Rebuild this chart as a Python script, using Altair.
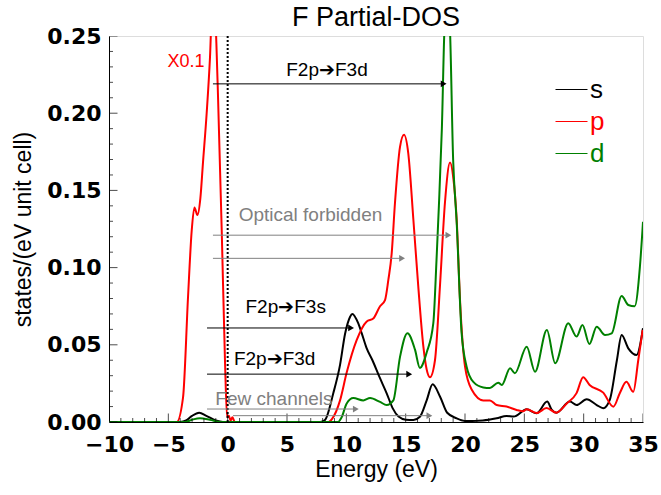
import altair as alt
import pandas as pd

# ---------------- data ----------------
s_x = [-10, -4.0, -3.5, -3.0, -2.4, -1.8, -1.0, -0.4, 7.8, 8.2, 8.9, 9.47, 9.89, 10.31, 10.5, 11.0, 11.3, 11.7, 12.2, 12.8,
       13.4, 13.9, 14.4, 15.0, 15.65, 16.2, 16.77, 17.27, 17.9, 18.5, 19.3, 20.1, 21.5, 22.67, 23.5, 24.1, 25.2, 26.03,
       26.93, 27.3, 27.7, 28.84, 29.4, 30.25, 31.1, 31.65, 32.2, 32.8, 33.2, 33.76, 34.46, 35.0]
s_y = [0, 0, 0.001, 0.004, 0.006, 0.004, 0.001, 0, 0, 0.0013, 0.0186, 0.037, 0.057, 0.068, 0.070, 0.064, 0.0574, 0.048, 0.040, 0.029,
       0.0186, 0.009, 0.0035, 0.0015, 0.0013, 0.0034, 0.014, 0.0244, 0.0164, 0.006, 0.0024, 0.0006, 0.001, 0.0024, 0.0039, 0.0035, 0.0082, 0.0056,
       0.0132, 0.008, 0.006, 0.0132, 0.011, 0.0147, 0.011, 0.0089, 0.0143, 0.040, 0.0563, 0.0477, 0.0434, 0.0607]

p_x = [-10, -4.3, -3.76, -3.34, -3.03, -2.8, -2.55, -2.3, -2.08, -1.77, -1.49, -1.3, -1.1, -0.95, -0.81, -0.5, -0.22, -0.05,
       0.1, 0.25, 0.4, 0.6, 8.5, 8.8, 9.47, 10.03, 10.87, 11.7, 12.27, 12.84, 13.26, 13.54, 13.82, 14.1, 14.52, 14.86, 15.22,
       15.65, 16.06, 16.49, 16.77, 17.05, 17.47, 17.89, 18.31, 18.74, 19.0, 19.3, 19.58, 20.0, 20.56, 21.54, 22.1, 22.67,
       23.5, 24.35, 24.9, 25.2, 26.03, 26.87, 27.7, 28.57, 29.4, 29.96, 30.5, 31.65, 32.5, 33.06, 33.6, 34.18, 34.6, 34.97]
p_y = [0, 0, 0.016, 0.081, 0.124, 0.139, 0.134, 0.145, 0.168, 0.2, 0.236, 0.27, 0.27, 0.245, 0.21, 0.124, 0.038, 0.003,
       0.004, 0.001, 0.003, 0, 0, 0.002, 0.014, 0.032, 0.053, 0.065, 0.067, 0.075, 0.079, 0.092, 0.109, 0.142, 0.178, 0.186, 0.174,
       0.131, 0.088, 0.049, 0.034, 0.029, 0.040, 0.088, 0.142, 0.168, 0.159, 0.131, 0.079, 0.036, 0.021, 0.014, 0.014, 0.011,
       0.010, 0.0078, 0.007, 0.0083, 0.0058, 0.009, 0.006, 0.012, 0.0187, 0.029, 0.024, 0.019, 0.0099, 0.019, 0.026, 0.0196, 0.040, 0.0596]

d_x = [-10, -3.6, -3.0, -2.33, -1.5, -0.6, 9.3, 9.6, 10.03, 10.59, 11.43, 12.0, 12.84, 13.4, 13.96, 14.52, 15.15, 15.78, 16.2,
       16.77, 17.33, 17.6, 17.8, 18.05, 18.3, 18.5, 18.7, 19.0, 19.3, 19.71, 20.13, 20.7, 21.54, 22.1, 22.8, 23.1, 23.8, 24.2,
       25.2, 25.9, 26.9, 27.6, 28.7, 29.4, 29.9, 30.48, 31.1, 31.8, 32.36, 33.2, 33.76, 34.3, 34.74, 35.0]
d_y = [0, 0, 0.0015, 0.0025, 0.0015, 0, 0, 0.003, 0.012, 0.0155, 0.014, 0.0155, 0.013, 0.011, 0.014, 0.042, 0.0575, 0.047, 0.035,
       0.045, 0.064, 0.105, 0.14, 0.19, 0.26, 0.27, 0.26, 0.17, 0.129, 0.058, 0.036, 0.026, 0.0224, 0.022, 0.0255, 0.024, 0.0348, 0.0316,
       0.0488, 0.0326, 0.0596, 0.038, 0.064, 0.0553, 0.0628, 0.0505, 0.0617, 0.0563, 0.0574, 0.0816, 0.0758, 0.075, 0.1006, 0.1297]

series_names = ["s", "p", "d"]
series_colors = ["#000000", "#ff0000", "#008000"]

# annotation arrows
arrow_x1 = [-1.24, -1.24, -1.24, -1.74, -1.74, -1.74, 0.45]
arrow_x2 = [18.2, 18.6, 14.7, 10.4, 15.3, 10.8, 17.0]
arrow_y = [0.219, 0.121, 0.106, 0.0609, 0.031, 0.0084, 0.0041]
arrow_grp = ["k", "g", "g", "k", "k", "g", "g"]

# annotation texts
text_lbl = ["F2p\u2794F3d", "Optical forbidden", "F2p\u2794F3s", "F2p\u2794F3d", "Few channels", "X0.1"]
text_x = [8.37, 6.98, 4.89, 3.96, 3.9, -3.51]
text_y = [0.228, 0.134, 0.0747, 0.0406, 0.0147, 0.233]
text_grp = ["k", "g", "k", "k", "g", "r"]

x_major = [-10, -5, 0, 5, 10, 15, 20, 25, 30, 35]
x_minor = [v for v in range(-10, 36) if v % 5 != 0]
y_major = [0.0, 0.05, 0.10, 0.15, 0.20, 0.25]
y_minor = [round(i * 0.01, 2) for i in range(26) if i % 5 != 0]

FONT = "Liberation Sans"
TICKFONT = "DejaVu Sans"

# ---------------- build ----------------
rows = []
for name, xs_, ys_ in zip(series_names, [s_x, p_x, d_x], [s_y, p_y, d_y]):
    for a, b in zip(xs_, ys_):
        rows.append({"E": a, "dos": b, "orb": name})
df = pd.DataFrame(rows)

xsc = alt.Scale(domain=[-10, 35], nice=False, zero=False)
ysc = alt.Scale(domain=[0, 0.25], nice=False, zero=False)

x_axis = alt.Axis(values=x_major, format="d", ticks=False, grid=False, domainColor="black",
                  labelFont=TICKFONT, labelFontSize=22, labelFontWeight="bold", labelColor="black",
                  labelPadding=12, labelFlush=False, title="Energy (eV)", titleFont=FONT,
                  titleFontSize=23, titleFontWeight="normal", titleColor="black", titlePadding=3)
y_axis = alt.Axis(values=y_major, format=".2f", ticks=False, grid=False, domainColor="black",
                  labelFont=TICKFONT, labelFontSize=22, labelFontWeight="bold", labelColor="black",
                  labelPadding=8, labelFlush=False, title="states/(eV unit cell)", titleFont=FONT,
                  titleFontSize=23, titleFontWeight="normal", titleColor="black", titlePadding=11)

lines = alt.Chart(df).mark_line(clip=True, strokeWidth=2, interpolate="monotone").encode(
    x=alt.X("E:Q", scale=xsc, axis=x_axis),
    y=alt.Y("dos:Q", scale=ysc, axis=y_axis),
    color=alt.Color("orb:N", scale=alt.Scale(domain=series_names, range=series_colors),
                    legend=alt.Legend(title=None, orient="none", legendX=446, legendY=37,
                                      symbolType="stroke", symbolSize=1024, symbolStrokeWidth=1,
                                      labelFont=FONT, labelFontSize=26, rowPadding=2, labelOffset=2,
                                      labelColor={"expr": "datum.label == 's' ? '#000000' : (datum.label == 'p' ? '#ff0000' : '#008000')"})),
)

zero_line = alt.Chart(pd.DataFrame({"E": [0.0]})).mark_rule(color="black", strokeWidth=2, strokeDash=[2, 2]).encode(x="E:Q")

def ticks_layer(vals, size, horizontal):
    if horizontal:
        d = pd.DataFrame({"dos": vals, "E": [-10] * len(vals)})
        return alt.Chart(d).mark_tick(orient="horizontal", size=size, thickness=1, color="black", clip=True).encode(
            x="E:Q", y="dos:Q")
    d = pd.DataFrame({"E": vals, "dos": [0] * len(vals)})
    return alt.Chart(d).mark_tick(orient="vertical", size=size, thickness=1, color="black", clip=True).encode(
        x="E:Q", y="dos:Q")

adf = pd.DataFrame({"E": arrow_x1, "E2": arrow_x2, "dos": arrow_y, "g": arrow_grp})
tdf = pd.DataFrame({"E": text_x, "dos": text_y, "t": text_lbl, "g": text_grp})
gcol = {"k": "#000000", "g": "#808080", "r": "#ff0000"}

layers = [lines, zero_line,
          ticks_layer(y_major, 17, True), ticks_layer(y_minor, 8, True),
          ticks_layer(x_major, 17, False), ticks_layer(x_minor, 8, False)]
for g in ["k", "g"]:
    sub = adf[adf.g == g]
    layers.append(alt.Chart(sub).mark_rule(color=gcol[g], strokeWidth=1).encode(x="E:Q", x2="E2:Q", y="dos:Q"))
    layers.append(alt.Chart(sub).mark_point(shape="triangle-right", filled=True, size=45, color=gcol[g], opacity=1).encode(
        x="E2:Q", y="dos:Q"))
for g in ["k", "g", "r"]:
    sub = tdf[tdf.g == g]
    layers.append(alt.Chart(sub).mark_text(font=FONT, fontSize=19 if g != "r" else 18, color=gcol[g]).encode(
        x="E:Q", y="dos:Q", text="t:N"))

chart = alt.layer(*layers).properties(
    width=534, height=386,
    title=alt.TitleParams("F Partial-DOS", font=FONT, fontSize=27, fontWeight="normal", color="black",
                          anchor="middle", offset=0, dy=7),
    autosize=alt.AutoSizeParams(type="none"),
    padding={"left": 109, "top": 36, "right": 18, "bottom": 73},
).configure_view(stroke="#666666", strokeWidth=1).configure(background="white")

chart.save("out.html", embed_options={"renderer": "svg", "actions": False})
